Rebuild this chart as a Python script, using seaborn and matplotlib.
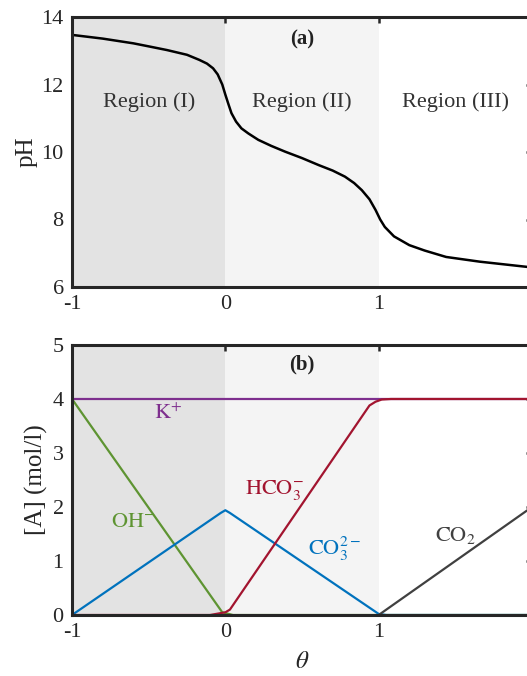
import numpy as np
import pandas as pd
import matplotlib
matplotlib.use("Agg")
import matplotlib.pyplot as plt
import seaborn as sns

# ---------------- data ----------------
theta_ph = [-1.0, -0.8, -0.6, -0.5, -0.38, -0.25, -0.17, -0.12, -0.08, -0.05, -0.02,
            0.0, 0.02, 0.04, 0.07, 0.105, 0.15, 0.215, 0.3, 0.39, 0.5, 0.61, 0.7,
            0.78, 0.84, 0.89, 0.94, 0.98, 1.01, 1.04, 1.1, 1.2, 1.3, 1.44, 1.66, 1.8, 2.0]
ph_vals = [13.47, 13.36, 13.22, 13.13, 13.02, 12.88, 12.73, 12.62, 12.48, 12.3, 12.0,
           11.7, 11.42, 11.15, 10.9, 10.70, 10.55, 10.36, 10.18, 10.01, 9.82, 9.61, 9.45,
           9.27, 9.08, 8.87, 8.6, 8.28, 8.0, 7.78, 7.5, 7.24, 7.08, 6.89, 6.75, 6.68, 6.58]

theta_k = [-1.0, 2.0]
k_vals = [4.0, 4.0]

theta_oh = [-1.0, -0.02, 0.05, 2.0]
oh_vals = [4.0, 0.05, 0.0, 0.0]

theta_co3 = [-1.0, -0.03, 0.0, 0.03, 1.0, 1.05, 2.0]
co3_vals = [0.0, 1.89, 1.94, 1.89, 0.02, 0.0, 0.0]

theta_hco3 = [-1.0, -0.1, 0.0, 0.03, 0.94, 0.98, 1.02, 1.08, 2.0]
hco3_vals = [0.0, 0.0, 0.05, 0.1, 3.88, 3.95, 3.99, 4.0, 4.0]

theta_co2 = [1.0, 2.0]
co2_vals = [0.0, 2.0]

region_bounds = [-1.0, 0.0, 1.0, 2.0]
region_names = ["Region (I)", "Region (II)", "Region (III)"]
region_colors = ["#e3e3e3", "#f4f4f4", "#ffffff"]

x_ticks = [-1, 0, 1]
x_tick_labels = ["-1", "0", "1"]

species = [
    ("K+", theta_k, k_vals, "#7E2F8E", r"$\mathrm{K}^{+}$", -0.37, 3.72),
    ("OH-", theta_oh, oh_vals, "#5E9432", r"$\mathrm{OH}^{-}$", -0.6, 1.72),
    ("CO3", theta_co3, co3_vals, "#0072BD", r"$\mathrm{CO}_3^{2-}$", 0.71, 1.22),
    ("HCO3", theta_hco3, hco3_vals, "#A2142F", r"$\mathrm{HCO}_3^{-}$", 0.32, 2.31),
    ("CO2", theta_co2, co2_vals, "#404040", r"$\mathrm{CO}_2$", 1.5, 1.48),
]

# ---------------- style ----------------
sns.set_theme(style="white")
plt.rcParams["font.family"] = ["Liberation Serif", "DejaVu Serif"]
plt.rcParams["mathtext.fontset"] = "stix"
plt.rcParams["axes.unicode_minus"] = False

fig = plt.figure(figsize=(5.27, 6.76), dpi=100)
W, H = 527.0, 676.0
left = 72 / W
width = (532 - 72) / W
ax1 = fig.add_axes([left, (H - 287) / H, width, 270 / H])
ax2 = fig.add_axes([left, (H - 615) / H, width, 270 / H])

spine_col = "#262626"
for ax in (ax1, ax2):
    for i in range(3):
        ax.axvspan(region_bounds[i], region_bounds[i + 1], color=region_colors[i], lw=0, zorder=0)
    ax.set_xlim(-1, 2)
    ax.set_xticks(x_ticks)
    ax.set_xticklabels(x_tick_labels)
    ax.tick_params(direction="in", length=4, width=1.8, top=True, right=True,
                   labelsize=16, colors=spine_col, pad=6)
    for s in ax.spines.values():
        s.set_linewidth(2.2)
        s.set_color(spine_col)
        s.set_zorder(5)

# panel (a)
df_ph = pd.DataFrame({"theta": theta_ph, "pH": ph_vals})
sns.lineplot(data=df_ph, x="theta", y="pH", ax=ax1, color="black", lw=1.8, zorder=3)
ax1.set_ylim(6, 14)
ax1.set_yticks([6, 8, 10, 12, 14])
ax1.set_xlabel("")
ax1.set_ylabel("pH", fontsize=18, labelpad=3)
for i, name in enumerate(region_names):
    ax1.text((region_bounds[i] + region_bounds[i + 1]) / 2, 11.48, name,
             ha="center", va="center", fontsize=16, color="#333333")
ax1.text(0.5, 13.32, "(a)", ha="center", va="center", fontsize=15,
         fontweight="bold", color="#222222")

# panel (b)
for name, th, vals, col, lab, lx, ly in species:
    d = pd.DataFrame({"theta": th, "conc": vals})
    sns.lineplot(data=d, x="theta", y="conc", ax=ax2, color=col, lw=1.6, zorder=3)
    ax2.text(lx, ly, lab, color=col, fontsize=16, ha="center", va="center")
ax2.set_ylim(0, 5)
ax2.set_yticks([0, 1, 2, 3, 4, 5])
ax2.set_ylabel("[A] (mol/l)", fontsize=18, labelpad=3)
ax2.set_xlabel(r"$\theta$", fontsize=18, labelpad=6)
ax2.text(0.5, 4.63, "(b)", ha="center", va="center", fontsize=15,
         fontweight="bold", color="#222222")

fig.savefig("out.png", dpi=100)
